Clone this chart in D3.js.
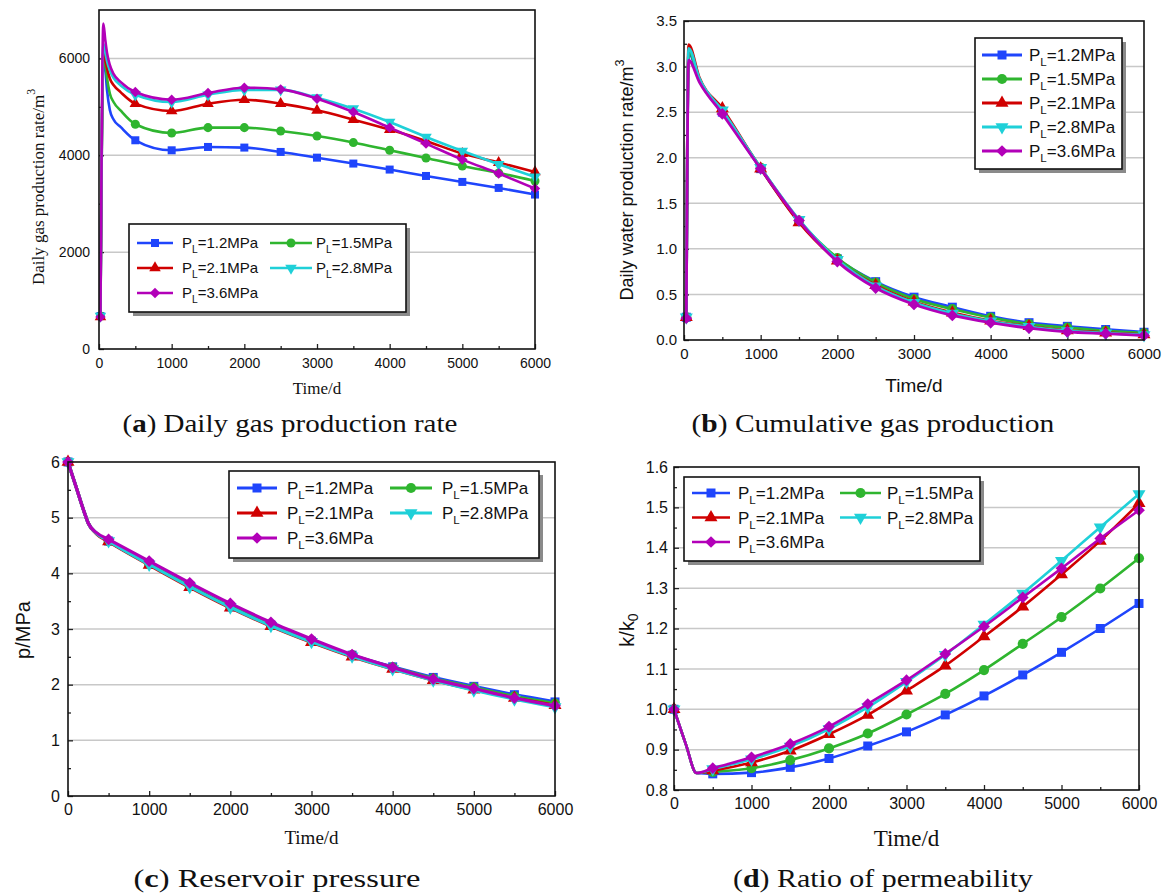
<!DOCTYPE html>
<html>
<head>
<meta charset="utf-8">
<script src="https://cdn.jsdelivr.net/npm/d3@7"></script>
<style>
  body { margin: 0; background: #fff; }
  svg { display: block; }
</style>
</head>
<body>
<svg id="chart" width="1169" height="894"></svg>
<script>
// Series labels (P_L values) and style per series
const pressures = ["1.2", "1.5", "2.1", "2.8", "3.6"];
const colors = ["#1f45fc", "#2fb52f", "#d00000", "#1fd0d8", "#b200b8"];
const markerTicks = [500, 1000, 1500, 2000, 2500, 3000, 3500, 4000, 4500, 5000, 5500, 6000];

// (a) Daily gas production rate
const timeA = [20, 60, 85, 110, 150, 200, 300, 500, 1000, 1500, 2000, 2500, 3000, 3500, 4000, 4500, 5000, 5500, 6000];
const gasBlue = [680, 6000, 5800, 5350, 4930, 4740, 4580, 4310, 4103, 4172, 4159, 4069, 3951, 3829, 3705, 3573, 3450, 3326, 3189];
const gasGreen = [680, 6050, 5900, 5600, 5270, 5100, 4920, 4640, 4460, 4571, 4571, 4502, 4398, 4262, 4103, 3945, 3780, 3635, 3470];
const gasRed = [660, 6150, 6000, 5800, 5580, 5450, 5300, 5066, 4914, 5066, 5148, 5066, 4928, 4736, 4530, 4296, 4035, 3850, 3656];
const gasCyan = [680, 6300, 6150, 5950, 5750, 5600, 5440, 5250, 5100, 5250, 5350, 5350, 5190, 4963, 4688, 4378, 4089, 3815, 3553];
const gasMagenta = [660, 6720, 6400, 6120, 5860, 5680, 5510, 5306, 5148, 5286, 5396, 5361, 5169, 4894, 4571, 4241, 3911, 3623, 3313];

// (b) Daily water production rate
const timeB = [30, 60, 200, 500, 1000, 1500, 2000, 2500, 3000, 3500, 4000, 4500, 5000, 5500, 6000];
const waterBlue = [0.25, 3.15, 2.85, 2.50, 1.88, 1.30, 0.89, 0.64, 0.47, 0.36, 0.26, 0.19, 0.15, 0.115, 0.085];
const waterGreen = [0.25, 3.17, 2.86, 2.51, 1.89, 1.31, 0.90, 0.63, 0.45, 0.34, 0.245, 0.175, 0.135, 0.10, 0.075];
const waterRed = [0.25, 3.24, 2.88, 2.54, 1.88, 1.29, 0.87, 0.60, 0.42, 0.30, 0.21, 0.15, 0.105, 0.08, 0.06];
const waterCyan = [0.25, 3.20, 2.87, 2.52, 1.89, 1.32, 0.88, 0.59, 0.41, 0.29, 0.205, 0.145, 0.10, 0.075, 0.055];
const waterMagenta = [0.24, 3.07, 2.83, 2.48, 1.88, 1.31, 0.86, 0.57, 0.39, 0.27, 0.19, 0.13, 0.09, 0.07, 0.05];

// (c) Reservoir pressure
const timeC = [0, 100, 200, 250, 350, 500, 1000, 1500, 2000, 2500, 3000, 3500, 4000, 4500, 5000, 5500, 6000];
const presBlue = [6.0, 5.55, 5.1, 4.9, 4.72, 4.58, 4.17, 3.77, 3.40, 3.07, 2.78, 2.53, 2.32, 2.13, 1.97, 1.82, 1.69];
const presGreen = [6.0, 5.55, 5.1, 4.9, 4.72, 4.58, 4.17, 3.77, 3.41, 3.08, 2.79, 2.53, 2.31, 2.11, 1.95, 1.79, 1.66];
const presRed = [6.0, 5.55, 5.1, 4.9, 4.71, 4.57, 4.15, 3.75, 3.38, 3.05, 2.76, 2.50, 2.28, 2.08, 1.91, 1.76, 1.63];
const presCyan = [6.0, 5.55, 5.1, 4.9, 4.72, 4.58, 4.16, 3.76, 3.39, 3.06, 2.77, 2.51, 2.28, 2.08, 1.90, 1.74, 1.60];
const presMagenta = [6.0, 5.55, 5.1, 4.9, 4.73, 4.61, 4.22, 3.83, 3.46, 3.12, 2.82, 2.54, 2.31, 2.10, 1.93, 1.76, 1.62];

// (d) Ratio of permeability
const timeD = [0, 150, 290, 500, 1000, 1500, 2000, 2500, 3000, 3500, 4000, 4500, 5000, 5500, 6000];
const permBlue = [1.0, 0.915, 0.842, 0.840, 0.843, 0.856, 0.878, 0.909, 0.944, 0.986, 1.033, 1.085, 1.141, 1.200, 1.262];
const permGreen = [1.0, 0.915, 0.842, 0.845, 0.854, 0.874, 0.903, 0.940, 0.987, 1.038, 1.097, 1.162, 1.228, 1.299, 1.374];
const permRed = [1.0, 0.915, 0.842, 0.848, 0.868, 0.897, 0.938, 0.986, 1.046, 1.108, 1.180, 1.254, 1.334, 1.417, 1.510];
const permCyan = [1.0, 0.915, 0.842, 0.852, 0.876, 0.908, 0.951, 1.005, 1.068, 1.135, 1.210, 1.287, 1.368, 1.451, 1.533];
const permMagenta = [1.0, 0.915, 0.842, 0.854, 0.881, 0.914, 0.957, 1.013, 1.072, 1.137, 1.205, 1.277, 1.349, 1.423, 1.493];

const sans = "'Liberation Sans', Arial, sans-serif";
const serif = "'Liberation Serif', 'Times New Roman', serif";

const svg = d3.select("#chart");

// marker shape per series index: square, circle, triangle up, triangle down, diamond
function drawMarker(g, cx, cy, i, size) {
  const types = [d3.symbolSquare, d3.symbolCircle, d3.symbolTriangle, d3.symbolTriangle, d3.symbolSquare];
  const rot = [0, 0, 0, 180, 45][i];
  const area = [1, 1.0, 0.9, 0.9, 0.85][i] * size * size;
  g.append("path")
    .attr("d", d3.symbol().type(types[i]).size(area)())
    .attr("fill", colors[i])
    .attr("transform", `translate(${cx},${cy}) rotate(${rot})`);
}

function drawPanel(p) {
  const g = svg.append("g");
  const x = d3.scaleLinear().domain([0, 6000]).range([p.left, p.right]);
  const y = d3.scaleLinear().domain(p.yDomain).range([p.bottom, p.top]);

  // grid
  g.selectAll(".grid").data(p.grid).join("line")
    .attr("x1", p.left).attr("x2", p.right)
    .attr("y1", d => y(d)).attr("y2", d => y(d))
    .attr("stroke", "#c8c8c8").attr("stroke-width", 1.5);

  // axes (ticks inward)
  const xAx = g.append("g").attr("transform", `translate(0,${p.bottom})`)
    .call(d3.axisBottom(x).tickValues(d3.range(0, 6001, 1000)).tickSize(-5)
      .tickPadding(p.xPad).tickFormat(d3.format("d")));
  g.append("g").attr("transform", `translate(0,${p.bottom})`)
    .call(d3.axisBottom(x).tickValues(d3.range(500, 6000, 1000)).tickSize(-3).tickFormat(""));
  const yAx = g.append("g").attr("transform", `translate(${p.left},0)`)
    .call(d3.axisLeft(y).tickValues(p.yTicks).tickSize(-5)
      .tickPadding(p.yPad).tickFormat(d3.format(p.yFormat)));
  g.append("g").attr("transform", `translate(${p.left},0)`)
    .call(d3.axisLeft(y).tickValues(p.yMinor).tickSize(-3).tickFormat(""));
  g.selectAll(".domain").remove();
  g.selectAll(".tick line").attr("stroke", "#222").attr("stroke-width", 1.3);
  [xAx, yAx].forEach(a => a.selectAll("text")
    .style("font-family", sans).style("font-size", p.tickFont + "px").attr("fill", "#111"));

  // series
  const line = d3.line().x(d => x(d[0])).y(d => y(d[1])).curve(d3.curveMonotoneX);
  p.series.forEach((vals, i) => {
    const pts = p.times.map((t, j) => [t, vals[j]]);
    g.append("path").attr("d", line(pts))
      .attr("fill", "none").attr("stroke", colors[i]).attr("stroke-width", p.lw)
      .attr("stroke-linejoin", "round");
    pts.forEach(d => {
      if (d[0] === p.times[0] || markerTicks.includes(d[0])) {
        drawMarker(g, x(d[0]), y(d[1]), i, p.ms);
      }
    });
  });

  // frame
  g.append("rect").attr("x", p.left).attr("y", p.top)
    .attr("width", p.right - p.left).attr("height", p.bottom - p.top)
    .attr("fill", "none").attr("stroke", "#111").attr("stroke-width", 1.6);

  // legend with drop shadow
  const L = p.legend;
  g.append("rect").attr("x", L.x + 4).attr("y", L.y + 4).attr("width", L.w).attr("height", L.h)
    .attr("fill", "#8a8a8a");
  g.append("rect").attr("x", L.x).attr("y", L.y).attr("width", L.w).attr("height", L.h)
    .attr("fill", "#fff").attr("stroke", "#111").attr("stroke-width", 1.6);
  pressures.forEach((v, k) => {
    const col = L.cols[k % L.cols.length];
    const row = Math.floor(k / L.cols.length);
    const cy = L.row0 + row * L.rowH;
    g.append("line").attr("x1", col[0]).attr("x2", col[1]).attr("y1", cy).attr("y2", cy)
      .attr("stroke", colors[k]).attr("stroke-width", p.lw);
    drawMarker(g, (col[0] + col[1]) / 2, cy, k, p.ms);
    const t = g.append("text").attr("x", col[2]).attr("y", cy + L.fs * 0.36)
      .style("font-family", sans).style("font-size", L.fs + "px").attr("fill", "#111");
    t.append("tspan").text("P");
    t.append("tspan").text("L").style("font-size", (L.fs * 0.68) + "px").attr("dy", L.fs * 0.3);
    t.append("tspan").text("=" + v + "MPa").attr("dy", -L.fs * 0.3);
  });

  // axis titles
  const yt = g.append("text")
    .attr("transform", `translate(${p.yTitle.x},${p.yTitle.y}) rotate(-90)`)
    .attr("text-anchor", "middle").attr("dominant-baseline", "central")
    .style("font-family", p.yTitle.font).style("font-size", p.yTitle.fs + "px").attr("fill", "#111");
  yt.append("tspan").text(p.yTitle.text);
  if (p.yTitle.sup) yt.append("tspan").text(p.yTitle.sup).attr("dy", -p.yTitle.fs * 0.4)
    .style("font-size", (p.yTitle.fs * 0.7) + "px");
  if (p.yTitle.sub) yt.append("tspan").text(p.yTitle.sub).attr("dy", p.yTitle.fs * 0.3)
    .style("font-size", (p.yTitle.fs * 0.7) + "px");

  g.append("text").attr("x", (p.left + p.right) / 2).attr("y", p.xTitle.y)
    .attr("text-anchor", "middle").attr("dominant-baseline", "central")
    .style("font-family", p.xTitle.font).style("font-size", p.xTitle.fs + "px").attr("fill", "#111")
    .text("Time/d");

  // caption, widened horizontally to the reference width
  const cap = p.caption;
  const c = g.append("text").attr("x", 0).attr("y", 0)
    .attr("dominant-baseline", "central")
    .style("font-family", serif).style("font-size", cap.fs + "px").attr("fill", "#111");
  c.append("tspan").text("(");
  c.append("tspan").text(cap.tag).style("font-weight", "bold");
  c.append("tspan").text(") " + cap.text);
  const len = c.node().getComputedTextLength();
  c.attr("transform", `translate(${cap.x - cap.w / 2},${cap.y}) scale(${cap.w / len},1)`);
}

drawPanel({
  left: 99, right: 535, top: 10, bottom: 349,
  yDomain: [0, 7000], yTicks: [0, 2000, 4000, 6000], yMinor: [1000, 3000, 5000], grid: [2000, 4000, 6000],
  yFormat: "d", tickFont: 14, xPad: 9, yPad: 9,
  times: timeA, series: [gasBlue, gasGreen, gasRed, gasCyan, gasMagenta], lw: 2.6, ms: 8,
  legend: { x: 129, y: 224, w: 277, h: 88, row0: 243, rowH: 25, fs: 15,
    cols: [[137, 173, 182], [270, 312, 316]] },
  yTitle: { x: 38, y: 187, text: "Daily gas production rate/m", sup: "3", font: serif, fs: 17 },
  xTitle: { y: 388, font: serif, fs: 17 },
  caption: { x: 290, y: 424, w: 335, fs: 25, tag: "a", text: "Daily gas production rate" }
});

drawPanel({
  left: 684, right: 1144, top: 21, bottom: 340,
  yDomain: [0, 3.5], yTicks: d3.range(0, 3.51, 0.5), yMinor: d3.range(0.25, 3.5, 0.5), grid: d3.range(0.5, 3.01, 0.5),
  yFormat: ".1f", tickFont: 15, xPad: 8, yPad: 7,
  times: timeB, series: [waterBlue, waterGreen, waterRed, waterCyan, waterMagenta], lw: 2.8, ms: 9,
  legend: { x: 975, y: 38, w: 147, h: 131, row0: 55, rowH: 24, fs: 17,
    cols: [[982, 1022, 1029]] },
  yTitle: { x: 627, y: 180, text: "Daily water production rate/m", sup: "3", font: sans, fs: 18 },
  xTitle: { y: 385, font: sans, fs: 19 },
  caption: { x: 873, y: 424, w: 363, fs: 25, tag: "b", text: "Cumulative gas production" }
});

drawPanel({
  left: 68, right: 555, top: 462, bottom: 796,
  yDomain: [0, 6], yTicks: d3.range(0, 7, 1), yMinor: d3.range(0.5, 6, 1), grid: [1, 2, 3, 4, 5],
  yFormat: "d", tickFont: 16, xPad: 8, yPad: 8,
  times: timeC, series: [presBlue, presGreen, presRed, presCyan, presMagenta], lw: 3.2, ms: 9,
  legend: { x: 229, y: 471, w: 310, h: 87, row0: 488, rowH: 25, fs: 17,
    cols: [[237, 277, 287], [390, 432, 442]] },
  yTitle: { x: 23, y: 630, text: "p/MPa", font: sans, fs: 20 },
  xTitle: { y: 837, font: serif, fs: 19 },
  caption: { x: 277, y: 878, w: 287, fs: 25, tag: "c", text: "Reservoir pressure" }
});

drawPanel({
  left: 674, right: 1139, top: 467, bottom: 790,
  yDomain: [0.8, 1.6], yTicks: d3.range(0.8, 1.61, 0.1), yMinor: d3.range(0.85, 1.6, 0.1), grid: d3.range(0.9, 1.51, 0.1),
  yFormat: ".1f", tickFont: 16, xPad: 8, yPad: 6,
  times: timeD, series: [permBlue, permGreen, permRed, permCyan, permMagenta], lw: 2.6, ms: 9,
  legend: { x: 684, y: 477, w: 296, h: 84, row0: 493, rowH: 24.5, fs: 17,
    cols: [[692, 730, 738], [840, 881, 887]] },
  yTitle: { x: 627, y: 630, text: "k/k", sub: "0", font: sans, fs: 20 },
  xTitle: { y: 838, font: serif, fs: 23 },
  caption: { x: 883, y: 878, w: 300, fs: 25, tag: "d", text: "Ratio of permeability" }
});
</script>
</body>
</html>
